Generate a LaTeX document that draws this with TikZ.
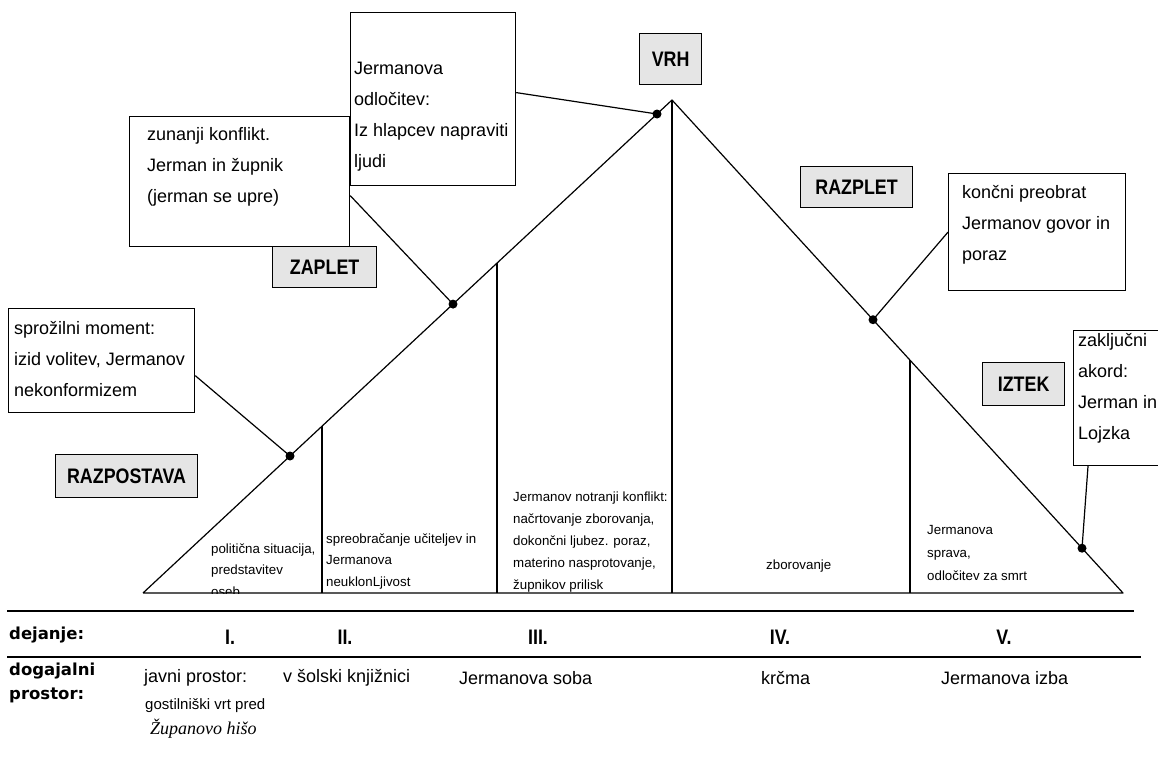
\documentclass[tikz,border=0pt]{standalone}
\usepackage{fontspec}
\setmainfont{Liberation Sans}
\newfontfamily\lblfont[FakeStretch=0.85]{Liberation Sans}
\newfontfamily\tblfont{DejaVu Sans}
\newfontfamily\handfont{Liberation Serif}
\tikzset{
  ln/.style={line width=1.2pt, line join=round},
  box/.style={draw, line width=1.2pt, inner sep=0pt, anchor=north west, fill=white},
  lbl/.style={draw, line width=1.2pt, fill=gray!20, inner sep=0pt, anchor=north west,
    font=\lblfont\bfseries\fontsize{21}{24}\selectfont},
  big/.style={anchor=north west, inner sep=0pt, align=left, font=\fontsize{18}{31}\selectfont},
  small/.style={anchor=north west, inner sep=0pt, align=left, font=\fontsize{13.3}{21.5}\selectfont},
  tbl/.style={anchor=west, inner sep=0pt, font=\tblfont\bfseries\fontsize{16.5}{18}\selectfont},
  num/.style={inner sep=0pt, font=\lblfont\bfseries\fontsize{21}{22}\selectfont},
  place/.style={anchor=west, inner sep=0pt, font=\fontsize{18}{20}\selectfont},
  dotc/.style={fill=black},
}
\begin{document}
\begin{tikzpicture}[x=1pt,y=-1pt]
\useasboundingbox (0,0) rectangle (1158,771);
\fill[white] (0,0) rectangle (1158,771);
% key points
\coordinate (A) at (143,593);
\coordinate (P) at (672,100);
\coordinate (B) at (1123,593);
\coordinate (Pb) at (672,593);
\coordinate (v1t) at (322,426.2);  \coordinate (v1b) at (322,593);
\coordinate (v2t) at (497,263.1);  \coordinate (v2b) at (497,593);
\coordinate (v3t) at (910,360.2);  \coordinate (v3b) at (910,593);
\coordinate (d1) at (290,456);
\coordinate (d2) at (453,304.1);
\coordinate (d3) at (657,114);
\coordinate (d4) at (873,319.7);
\coordinate (d5) at (1082,548.2);
% act contents (first one cut by the base line)
\begin{scope}
  \clip (200,520) rectangle (321,593);
  \node[small] (t1) at (211,543.5) {politična situacija,\\predstavitev\\oseb};
\end{scope}
\node[small] (t2) at (326,533.5) {spreobračanje učiteljev in\\Jermanova\\neuklonLjivost};
\node[small, font=\fontsize{13.3}{22}\selectfont] (t3) at (513,491.5) {Jermanov notranji konflikt:\\načrtovanje zborovanja,\\dokončni ljubez. poraz,\\materino nasprotovanje,\\župnikov prilisk};
\node[small] (t4) at (766,559.5) {zborovanje};
\node[small, font=\fontsize{13.3}{23}\selectfont] (t5) at (927,525.5) {Jermanova\\sprava,\\odločitev za smrt};
% pyramid
\draw[ln] (A) -- (P) -- (B) -- (A);
\draw[ln] (P) -- (Pb);
\draw[ln] (v1t) -- (v1b);
\draw[ln] (v2t) -- (v2b);
\draw[ln] (v3t) -- (v3b);
% boxes
\node[box, minimum width=165pt, minimum height=173pt] (jbox) at (350,12) {};
\node[box, minimum width=220pt, minimum height=130pt] (zbox) at (129,116) {};
\node[box, minimum width=186pt, minimum height=104pt] (sbox) at (8,308) {};
\node[box, minimum width=177pt, minimum height=117pt] (kbox) at (948,173) {};
\node[box, minimum width=100pt, minimum height=135pt] (akbox) at (1073,330) {};
\node[lbl, minimum width=104pt, minimum height=41pt] (zaplet) at (272,246) {ZAPLET};
\node[lbl, minimum width=62pt, minimum height=51pt] (vrh) at (639,33) {VRH};
\node[lbl, minimum width=112pt, minimum height=41pt] (razplet) at (800,166) {RAZPLET};
\node[lbl, minimum width=142pt, minimum height=43pt] (razpostava) at (55,454) {RAZPOSTAVA};
\node[lbl, minimum width=82pt, minimum height=43pt] (iztek) at (982,362) {IZTEK};
% connectors
\draw[ln] ([yshift=-15pt]sbox.east) -- (d1);
\draw[ln] ([yshift=-14pt]zbox.east) -- (d2);
\draw[ln] ([yshift=6.5pt]jbox.east) -- (d3);
\draw[ln] (kbox.west) -- (d4);
\draw[ln] ([xshift=15pt]akbox.south west) -- (d5);
\foreach \d in {d1,d2,d3,d4,d5} \fill[dotc] (\d) circle (4.5pt);
% box texts
\node[big] (jtxt) at (354,61.5) {Jermanova\\odločitev:\\Iz hlapcev napraviti\\ljudi};
\node[big] (ztxt) at (147,127.5) {zunanji konflikt.\\Jerman in župnik\\(jerman se upre)};
\node[big] (stxt) at (14,321.5) {sprožilni moment:\\izid volitev, Jermanov\\nekonformizem};
\node[big] (ktxt) at (962,185.5) {končni preobrat\\Jermanov govor in\\poraz};
\node[big] (atxt) at (1078,333.5) {zaključni\\akord:\\Jerman in\\Lojzka};
% table
\coordinate (r1l) at (7,611); \coordinate (r1r) at (1134,611);
\coordinate (r2l) at (7,657); \coordinate (r2r) at (1141,657);
\draw[ln] (r1l) -- (r1r);
\draw[ln] (r2l) -- (r2r);
\node[tbl] (dej) at (9,635) {dejanje:};
\node[num] (n1) at (230,637) {I.};
\node[num] (n2) at (345,637) {II.};
\node[num] (n3) at (538,637) {III.};
\node[num] (n4) at (780,637) {IV.};
\node[num] (n5) at (1004,637) {V.};
\node[tbl] (dog) at (9,671) {dogajalni};
\node[tbl] (pro) at (9,695) {prostor:};
\node[place] (p1) at (144,678) {javni prostor:};
\node[place, font=\fontsize{15}{17}\selectfont] (p1b) at (145,706) {gostilniški vrt pred};
\node[place, font=\handfont\itshape\fontsize{18}{20}\selectfont] (p1c) at (150,729) {Županovo hišo};
\node[place] (p2) at (283,678) {v šolski knjižnici};
\node[place] (p3) at (459,678) {Jermanova soba};
\node[place] (p4) at (761,678) {krčma};
\node[place] (p5) at (941,678) {Jermanova izba};
\end{tikzpicture}
\end{document}
